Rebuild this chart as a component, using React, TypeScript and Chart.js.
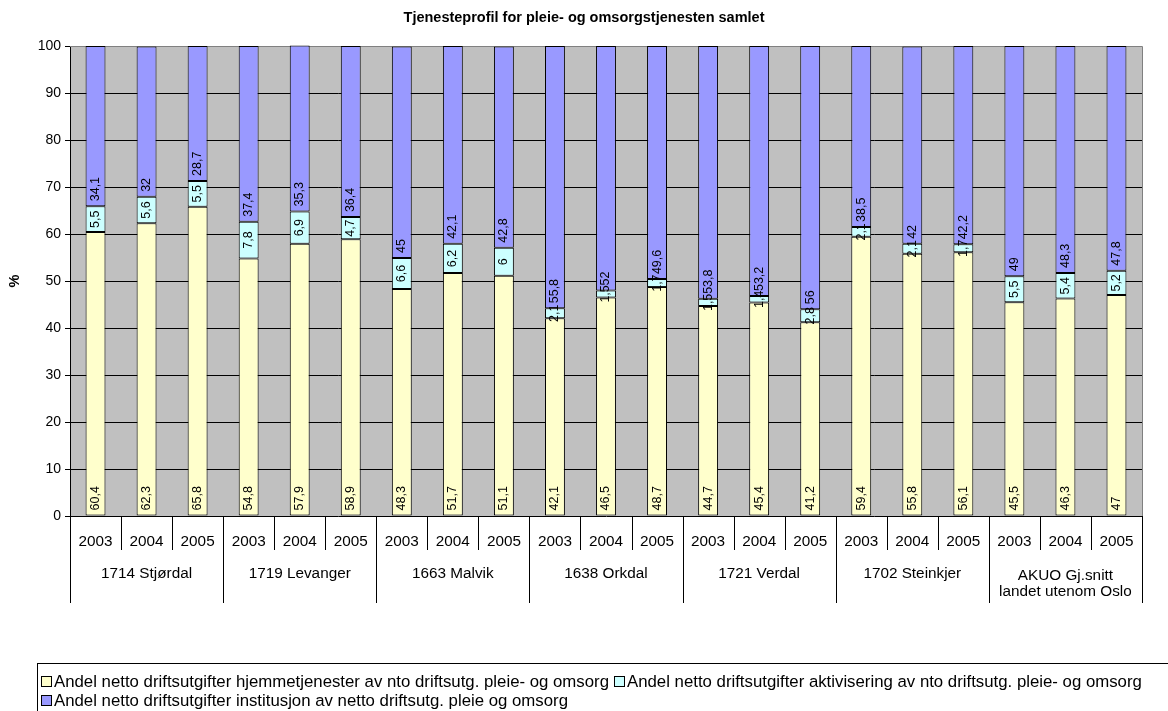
import React, { useEffect, useRef } from "react";
import { Chart, registerables } from "chart.js";

Chart.register(...registerables);

const chartTitle = "Tjenesteprofil for pleie- og omsorgstjenesten samlet";
const yAxisTitle = "%";
const years = ["2003", "2004", "2005"];
const groups: string[][] = [
  ["1714 Stjørdal"],
  ["1719 Levanger"],
  ["1663 Malvik"],
  ["1638 Orkdal"],
  ["1721 Verdal"],
  ["1702 Steinkjer"],
  ["AKUO Gj.snitt", "landet utenom Oslo"],
];
const seriesNames = [
  "Andel netto driftsutgifter hjemmetjenester av nto driftsutg. pleie- og omsorg",
  "Andel netto driftsutgifter aktivisering av nto driftsutg. pleie- og omsorg",
  "Andel netto driftsutgifter institusjon av netto driftsutg. pleie og omsorg",
];
const hjemme = [60.4, 62.3, 65.8, 54.8, 57.9, 58.9, 48.3, 51.7, 51.1, 42.1, 46.5, 48.7, 44.7, 45.4, 41.2, 59.4, 55.8, 56.1, 45.5, 46.3, 47];
const aktivisering = [5.5, 5.6, 5.5, 7.8, 6.9, 4.7, 6.6, 6.2, 6, 2.1, 1.5, 1.7, 1.5, 1.4, 2.8, 2.1, 2.1, 1.7, 5.5, 5.4, 5.2];
const institusjon = [34.1, 32, 28.7, 37.4, 35.3, 36.4, 45, 42.1, 42.8, 55.8, 52, 49.6, 53.8, 53.2, 56, 38.5, 42, 42.2, 49, 48.3, 47.8];
const yMin = 0;
const yMax = 100;
const yStep = 10;

const colors = ["#FFFFCC", "#CCFFFF", "#9999FF"];
const plotBg = "#C0C0C0";
const FONT = '"Liberation Sans", Arial, sans-serif';

const categories: string[] = [];
groups.forEach((g) => years.forEach((y) => categories.push(g.join(" ") + " " + y)));

const fmt = (v: number) => String(v).replace(".", ",");

const drawPlugin = {
  id: "customDraw",
  beforeDraw(chart: any) {
    const { ctx, chartArea: a } = chart;
    ctx.save();
    ctx.fillStyle = plotBg;
    ctx.fillRect(a.left, a.top, a.right - a.left, a.bottom - a.top);
    ctx.restore();
  },
  beforeDatasetsDraw(chart: any) {
    const { ctx, chartArea: a } = chart;
    ctx.save();
    ctx.strokeStyle = "#808080";
    ctx.lineWidth = 1;
    ctx.beginPath();
    ctx.moveTo(a.left, a.top + 0.5);
    ctx.lineTo(a.right + 0.5, a.top + 0.5);
    ctx.lineTo(a.right + 0.5, a.bottom);
    ctx.stroke();
    ctx.restore();
  },
  afterDatasetsDraw(chart: any) {
    const { ctx } = chart;
    ctx.save();
    ctx.fillStyle = "#000";
    ctx.font = `12.5px ${FONT}`;
    ctx.textBaseline = "middle";
    chart.data.datasets.forEach((ds: any, di: number) => {
      const meta = chart.getDatasetMeta(di);
      meta.data.forEach((el: any, i: number) => {
        const v = ds.data[i];
        const { x, y, base } = el.getProps(["x", "y", "base"], true);
        ctx.save();
        if (di === 1) {
          ctx.translate(x, (y + base) / 2);
          ctx.rotate(-Math.PI / 2);
          ctx.textAlign = "center";
        } else {
          ctx.translate(x, base - 5);
          ctx.rotate(-Math.PI / 2);
          ctx.textAlign = "left";
        }
        ctx.fillText(fmt(v), 0, 0);
        ctx.restore();
      });
    });
    ctx.restore();
  },
  afterDraw(chart: any) {
    const { ctx, chartArea: a } = chart;
    const xs = chart.scales.x;
    ctx.save();
    // title
    ctx.fillStyle = "#000";
    ctx.font = `bold 14.5px ${FONT}`;
    ctx.textAlign = "center";
    ctx.textBaseline = "middle";
    ctx.fillText(chartTitle, (a.left + a.right) / 2 - 22, 18);
    // y title
    ctx.save();
    ctx.translate(15, (a.top + a.bottom) / 2);
    ctx.rotate(-Math.PI / 2);
    ctx.fillText(yAxisTitle, 0, 0);
    ctx.restore();
    // x axis category labels
    const n = categories.length;
    const step = xs.getPixelForValue(1) - xs.getPixelForValue(0);
    ctx.strokeStyle = "#000";
    ctx.lineWidth = 1;
    for (let k = 0; k <= n; k++) {
      const px = Math.round(xs.getPixelForValue(k) - step / 2) + 0.5;
      const bottom = k % years.length === 0 ? a.bottom + 87 : a.bottom + 34;
      ctx.beginPath();
      ctx.moveTo(px, a.bottom);
      ctx.lineTo(px, bottom);
      ctx.stroke();
    }
    ctx.font = `15.3px ${FONT}`;
    for (let i = 0; i < n; i++) {
      ctx.fillText(years[i % years.length], xs.getPixelForValue(i), a.bottom + 26);
    }
    groups.forEach((g, gi) => {
      const cx = (xs.getPixelForValue(gi * 3) + xs.getPixelForValue(gi * 3 + 2)) / 2;
      if (g.length === 1) {
        ctx.fillText(g[0], cx, a.bottom + 58);
      } else {
        g.forEach((line, li) => ctx.fillText(line, cx, a.bottom + 60 + li * 16));
      }
    });
    // legend
    const lx = 37;
    const ly = 663;
    ctx.strokeStyle = "#000";
    ctx.strokeRect(lx + 0.5, ly + 0.5, 1200, 100);
    ctx.textAlign = "left";
    ctx.font = `16.8px ${FONT}`;
    const rows = [[0, 1], [2]];
    rows.forEach((row, ri) => {
      let x = lx + 4;
      const y = ly + 19 + ri * 19;
      row.forEach((si) => {
        ctx.fillStyle = colors[si];
        ctx.fillRect(x + 0.5, y - 5.5, 10, 10);
        ctx.strokeStyle = "#000";
        ctx.strokeRect(x + 0.5, y - 5.5, 10, 10);
        ctx.fillStyle = "#000";
        ctx.fillText(seriesNames[si], x + 13, y);
        x += 13 + ctx.measureText(seriesNames[si]).width + 5;
      });
    });
    ctx.restore();
  },
};

export default function App() {
  const ref = useRef<HTMLCanvasElement>(null);
  useEffect(() => {
    if (!ref.current) return;
    const mk = (label: string, data: number[], color: string) => ({
      label,
      data,
      backgroundColor: color,
      borderColor: "#000",
      borderWidth: 1,
      borderSkipped: false,
      barPercentage: 0.39,
      categoryPercentage: 1,
      clip: false as any,
    });
    const chart = new Chart(ref.current, {
      type: "bar",
      data: {
        labels: categories,
        datasets: [
          mk(seriesNames[0], hjemme, colors[0]),
          mk(seriesNames[1], aktivisering, colors[1]),
          mk(seriesNames[2], institusjon, colors[2]),
        ],
      },
      options: {
        animation: false,
        responsive: false,
        events: [],
        layout: { padding: { top: 46, right: 26, bottom: 195, left: 0 } },
        plugins: { legend: { display: false }, title: { display: false }, tooltip: { enabled: false } },
        scales: {
          x: { stacked: true, display: false },
          y: {
            stacked: true,
            min: yMin,
            max: yMax,
            ticks: { stepSize: yStep, color: "#000", font: { family: FONT, size: 14 }, padding: 4 },
            grid: {
              color: (c: any) => (c.tick && c.tick.value === yMax ? "#808080" : "#000"),
              tickLength: 5,
              tickColor: "#000",
            },
            border: { color: "#000" },
            afterFit: (s: any) => {
              s.width = 70;
            },
          },
        },
      },
      plugins: [drawPlugin],
    });
    return () => chart.destroy();
  }, []);
  return (
    <div style={{ position: "fixed", left: 0, top: 0, width: 1168, height: 711, background: "#fff" }}>
      <canvas ref={ref} width={1168} height={711} />
    </div>
  );
}
